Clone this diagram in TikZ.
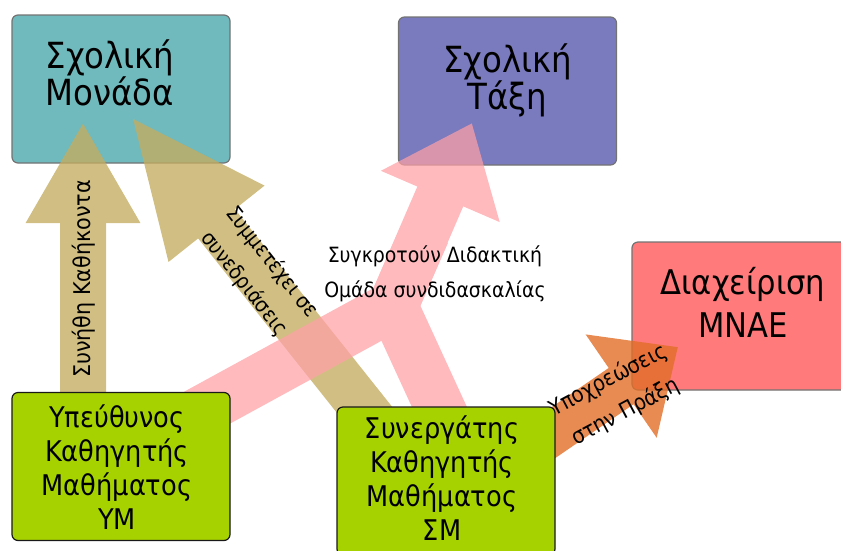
\documentclass[tikz,border=0pt]{standalone}
\usepackage{fontspec}
\setmainfont{DejaVu Sans Condensed}
\usetikzlibrary{positioning, arrows.meta}

\definecolor{monadacol}{RGB}{112,186,189}
\definecolor{taxicol}{RGB}{122,122,190}
\definecolor{mnaecol}{RGB}{255,122,122}
\definecolor{rolegreen}{RGB}{166,210,0}
\definecolor{dutycol}{RGB}{196,172,96}
\definecolor{teamcol}{RGB}{255,160,165}
\definecolor{obligcol}{RGB}{225,110,40}

\tikzset{
  unitbox/.style={rounded corners=6pt, minimum width=218pt, minimum height=148pt, inner sep=0pt, line width=1.2pt},
  placebox/.style={unitbox, draw=black!55},
  rolebox/.style={unitbox, draw=black!90, fill=rolegreen},
  boxlabel/.style={align=center, inner sep=0pt, font=\fontsize{36}{35}\selectfont},
  rolelabel/.style={align=center, inner sep=0pt, font=\fontsize{28.5}{34}\selectfont},
  flowlabel/.style={align=center, inner sep=0pt, font=\fontsize{21}{35}\selectfont},
  fatflow/.style={line width=46pt}
}

\begin{document}
\begin{tikzpicture}[x=1pt, y=-1pt]
  \useasboundingbox (0,0) rectangle (841,550);

  % places
  \node[placebox, fill=monadacol] (monada) at (121,89) {};
  \node[placebox, fill=taxicol] (taxi) at (507.5,91) {};
  \node[placebox, fill=mnaecol, minimum width=222pt] (mnae) at (743,316) {};

  % ends of the fat arrows
  \coordinate (dutyfrom) at (83,400);
  \coordinate (dutyto) at (83,122);
  \coordinate (meetfrom) at (375,423);
  \coordinate (meetto) at (130,115);
  \coordinate (teamym) at (190,417);
  \coordinate (teamsm) at (450,430);
  \coordinate (teamjoin) at (393,306);
  \coordinate (teammid) at (425,233);
  \coordinate (teamto) at (472,123);
  \coordinate (obligfrom) at (534,446);
  \coordinate (obligto) at (678,347);

  \begin{scope}[transparency group, opacity=0.78]
    \draw[fatflow, dutycol, -{Triangle[length=101pt, width=107pt]}] (dutyfrom) -- (dutyto);
  \end{scope}
  \begin{scope}[transparency group, opacity=0.78]
    \draw[fatflow, dutycol, line width=47pt, -{Triangle[length=139pt, width=111pt]}] (meetfrom) -- (meetto);
  \end{scope}
  \begin{scope}[transparency group, opacity=0.72]
    \draw[fatflow, teamcol, line width=50pt, line join=miter, -{Triangle[length=80pt, width=124pt]}]
      (teamym) -- (teamjoin) -- (teamto);
    \draw[fatflow, teamcol, line width=50pt, line join=miter] (teamsm) -- (teamjoin) -- (teammid);
  \end{scope}
  \begin{scope}[transparency group, opacity=0.8]
    \draw[fatflow, obligcol, line width=44pt, -{Triangle[length=69pt, width=121pt]}] (obligfrom) -- (obligto);
  \end{scope}

  % teachers
  \node[rolebox] (ym) at (121,466.5) {};
  \node[rolebox] (sm) at (446,481) {};

  % box texts
  \node[boxlabel, below=25pt of monada.north, xshift=-11pt] (monadatext) {Σχολική\\Μονάδα};
  \node[boxlabel, below=27pt of taxi.north] (taxitext) {Σχολική\\Τάξη};
  \node[boxlabel, font=\fontsize{34}{43}\selectfont, below=26pt of mnae.north] (mnaetext) {Διαχείριση\\ΜΝΑΕ};
  \node[rolelabel, below=13pt of ym.north, xshift=-4pt] (ymtext) {Υπεύθυνος\\Καθηγητής\\Μαθήματος\\ΥΜ};
  \node[rolelabel, below=9pt of sm.north, xshift=-4pt] (smtext) {Συνεργάτης\\Καθηγητής\\Μαθήματος\\ΣΜ};

  % arrow texts
  \node[flowlabel, font=\fontsize{23}{35}\selectfont, rotate=90] (dutytext) at (84,279) {Συνήθη Καθήκοντα};
  \node[flowlabel, rotate=-51.5] (meettext) at (258,273) {Συμμετέχει σε\\συνεδριάσεις};
  \node[flowlabel] (teamtext) at (435,274) {Συγκροτούν Διδακτική\\Ομάδα συνδιδασκαλίας};
  \node[flowlabel, font=\fontsize{22}{36}\selectfont, rotate=28] (obligtext) at (617,396) {Υποχρεώσεις\\στην Πράξη};
\end{tikzpicture}
\end{document}
